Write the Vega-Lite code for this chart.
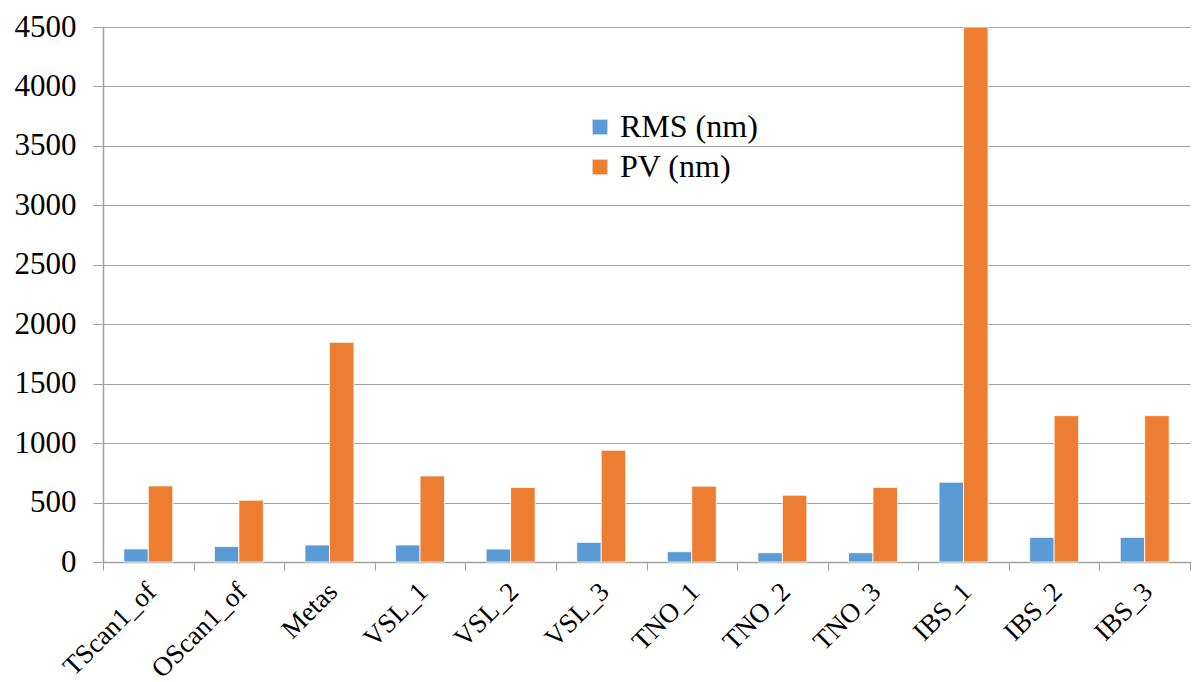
{
  "$schema": "https://vega.github.io/schema/vega-lite/v6.json",
  "autosize": "none",
  "width": 1087,
  "height": 535,
  "padding": {"left": 103, "top": 27, "right": 4, "bottom": 120},
  "background": "white",
  "data": {
    "values": [
      {"name": "TScan1_of", "series": "RMS (nm)", "value": 110},
      {"name": "TScan1_of", "series": "PV (nm)", "value": 640},
      {"name": "OScan1_of", "series": "RMS (nm)", "value": 130},
      {"name": "OScan1_of", "series": "PV (nm)", "value": 520},
      {"name": "Metas", "series": "RMS (nm)", "value": 143},
      {"name": "Metas", "series": "PV (nm)", "value": 1848},
      {"name": "VSL_1", "series": "RMS (nm)", "value": 143},
      {"name": "VSL_1", "series": "PV (nm)", "value": 724},
      {"name": "VSL_2", "series": "RMS (nm)", "value": 109},
      {"name": "VSL_2", "series": "PV (nm)", "value": 627},
      {"name": "VSL_3", "series": "RMS (nm)", "value": 165},
      {"name": "VSL_3", "series": "PV (nm)", "value": 940},
      {"name": "TNO_1", "series": "RMS (nm)", "value": 87},
      {"name": "TNO_1", "series": "PV (nm)", "value": 638},
      {"name": "TNO_2", "series": "RMS (nm)", "value": 78},
      {"name": "TNO_2", "series": "PV (nm)", "value": 562},
      {"name": "TNO_3", "series": "RMS (nm)", "value": 78},
      {"name": "TNO_3", "series": "PV (nm)", "value": 627},
      {"name": "IBS_1", "series": "RMS (nm)", "value": 671},
      {"name": "IBS_1", "series": "PV (nm)", "value": 4500},
      {"name": "IBS_2", "series": "RMS (nm)", "value": 207},
      {"name": "IBS_2", "series": "PV (nm)", "value": 1231},
      {"name": "IBS_3", "series": "RMS (nm)", "value": 207},
      {"name": "IBS_3", "series": "PV (nm)", "value": 1231}
    ]
  },
  "mark": {"type": "bar", "stroke": "white", "strokeWidth": 0.8},
  "encoding": {
    "x": {
      "field": "name",
      "type": "nominal",
      "sort": null,
      "scale": {"paddingInner": 0, "paddingOuter": 0},
      "axis": {
        "title": null,
        "labelAngle": -45,
        "labelFont": "Liberation Serif, serif",
        "labelFontSize": 27,
        "labelColor": "black",
        "labelPadding": 8,
        "labelOffset": -6,
        "tickBand": "extent",
        "tickSize": 8,
        "tickColor": "#a0a0a0",
        "domainColor": "#a0a0a0",
        "domainWidth": 1.5,
        "grid": false
      }
    },
    "xOffset": {
      "field": "series",
      "type": "nominal",
      "sort": ["RMS (nm)", "PV (nm)"],
      "scale": {"paddingInner": 0, "paddingOuter": 0.85}
    },
    "y": {
      "field": "value",
      "type": "quantitative",
      "scale": {"domain": [0, 4500], "nice": false},
      "axis": {
        "title": null,
        "values": [0, 500, 1000, 1500, 2000, 2500, 3000, 3500, 4000, 4500],
        "format": "d",
        "labelFont": "Liberation Serif, serif",
        "labelFontSize": 31,
        "labelColor": "black",
        "labelPadding": 17,
        "tickSize": 10,
        "tickColor": "#a0a0a0",
        "domainColor": "#a0a0a0",
        "domainWidth": 1.5,
        "gridColor": "#a0a0a0",
        "gridWidth": 1.2
      }
    },
    "color": {
      "field": "series",
      "type": "nominal",
      "sort": ["RMS (nm)", "PV (nm)"],
      "scale": {"domain": ["RMS (nm)", "PV (nm)"], "range": ["#5B9BD5", "#ED7D31"]},
      "legend": {
        "title": null,
        "orient": "none",
        "legendX": 481,
        "legendY": 84,
        "symbolType": "square",
        "symbolSize": 220,
        "symbolStrokeWidth": 0,
        "labelFont": "Liberation Serif, serif",
        "labelFontSize": 32,
        "labelColor": "black",
        "rowPadding": 8,
        "labelOffset": 4
      }
    }
  },
  "config": {
    "font": "Liberation Serif, serif",
    "view": {"stroke": null}
  }
}
